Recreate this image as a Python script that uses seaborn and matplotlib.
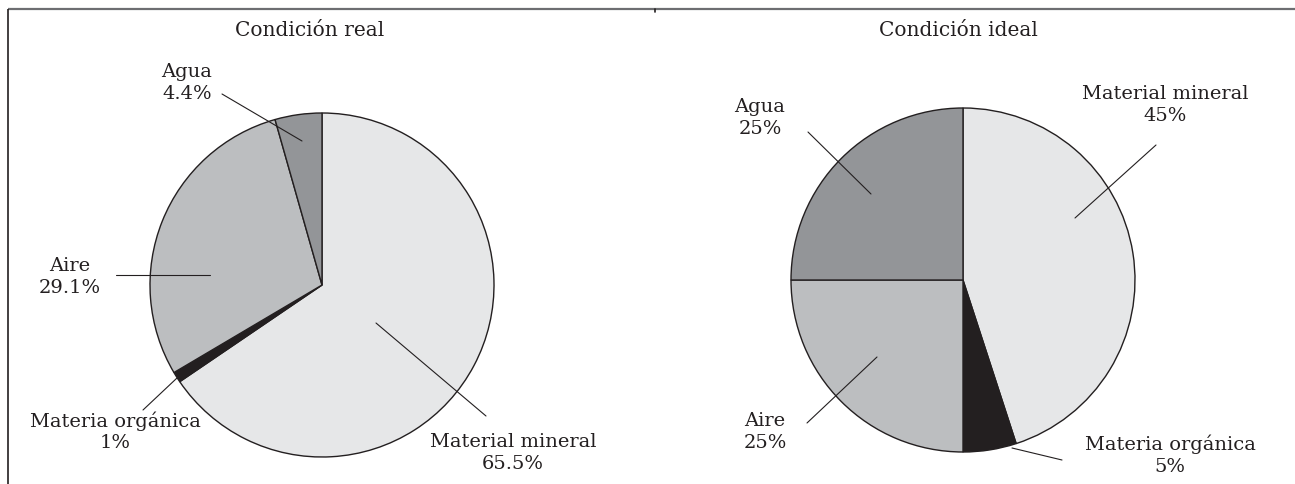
import matplotlib
matplotlib.use("Agg")
import matplotlib.pyplot as plt
import seaborn as sns

sns.set_theme(style="white")
plt.rcParams["font.family"] = ["DejaVu Serif"]

# Soil composition (percent), clockwise from 12 o'clock
components = ["Material mineral", "Materia orgánica", "Aire", "Agua"]
real_values = [65.5, 1.0, 29.1, 4.4]
ideal_values = [45.0, 5.0, 25.0, 25.0]
real_labels = ["65.5%", "1%", "29.1%", "4.4%"]
ideal_labels = ["45%", "5%", "25%", "25%"]
panel_titles = ["Condición real", "Condición ideal"]
slice_colors = ["#e6e7e8", "#231f20", "#bcbec0", "#939598"]

W, H = 1295, 484
fig = plt.figure(figsize=(W / 100, H / 100), dpi=100)
ax = fig.add_axes([0, 0, 1, 1])


def py(y):
    # pixel row -> data y (origin at bottom)
    return H - y


pies = [
    dict(values=real_values, labels=real_labels, center=(322, 285), r=172,
         title_xy=(310, 30),
         text_xy=[(513, 453), (115, 432), (70, 277), (187, 83)],
         leaders=[((376, 323), (486, 416)), ((177, 378), (143, 410)),
                  ((210, 275), (116, 275)), ((302, 141), (222, 94))]),
    dict(values=ideal_values, labels=ideal_labels, center=(963, 280), r=172,
         title_xy=(958, 30),
         text_xy=[(1165, 105), (1170, 455), (765, 432), (760, 118)],
         leaders=[((1075, 218), (1156, 145)), ((1012, 448), (1062, 460)),
                  ((877, 357), (807, 423)), ((871, 194), (808, 132))]),
]

for title, p in zip(panel_titles, pies):
    cx, cy = p["center"]
    ax.pie(p["values"], colors=slice_colors, startangle=90, counterclock=False,
           center=(cx, py(cy)), radius=p["r"], frame=True,
           wedgeprops=dict(edgecolor="#231f20", linewidth=1.0))
    ax.text(p["title_xy"][0], py(p["title_xy"][1]), title,
            ha="center", va="center", fontsize=14.5, color="#231f20")
    for name, lab, (tx, ty), ((x0, y0), (x1, y1)) in zip(
            components, p["labels"], p["text_xy"], p["leaders"]):
        ax.plot([x0, x1], [py(y0), py(y1)], color="#231f20", lw=0.8)
        ax.text(tx, py(ty), f"{name}\n{lab}", ha="center", va="center",
                fontsize=14, color="#231f20", linespacing=1.25)

# Frame lines
ax.plot([8, W], [py(9), py(9)], color="#6d6e71", lw=1.6, solid_capstyle="butt")
ax.plot([8, 8], [py(9), 0], color="#231f20", lw=1.2, solid_capstyle="butt")
ax.plot([655, 655], [py(9), py(12)], color="#231f20", lw=1.2)

ax.set_xlim(0, W)
ax.set_ylim(0, H)
ax.set_aspect("auto")
ax.set_axis_off()

fig.savefig("out.png", dpi=100)
